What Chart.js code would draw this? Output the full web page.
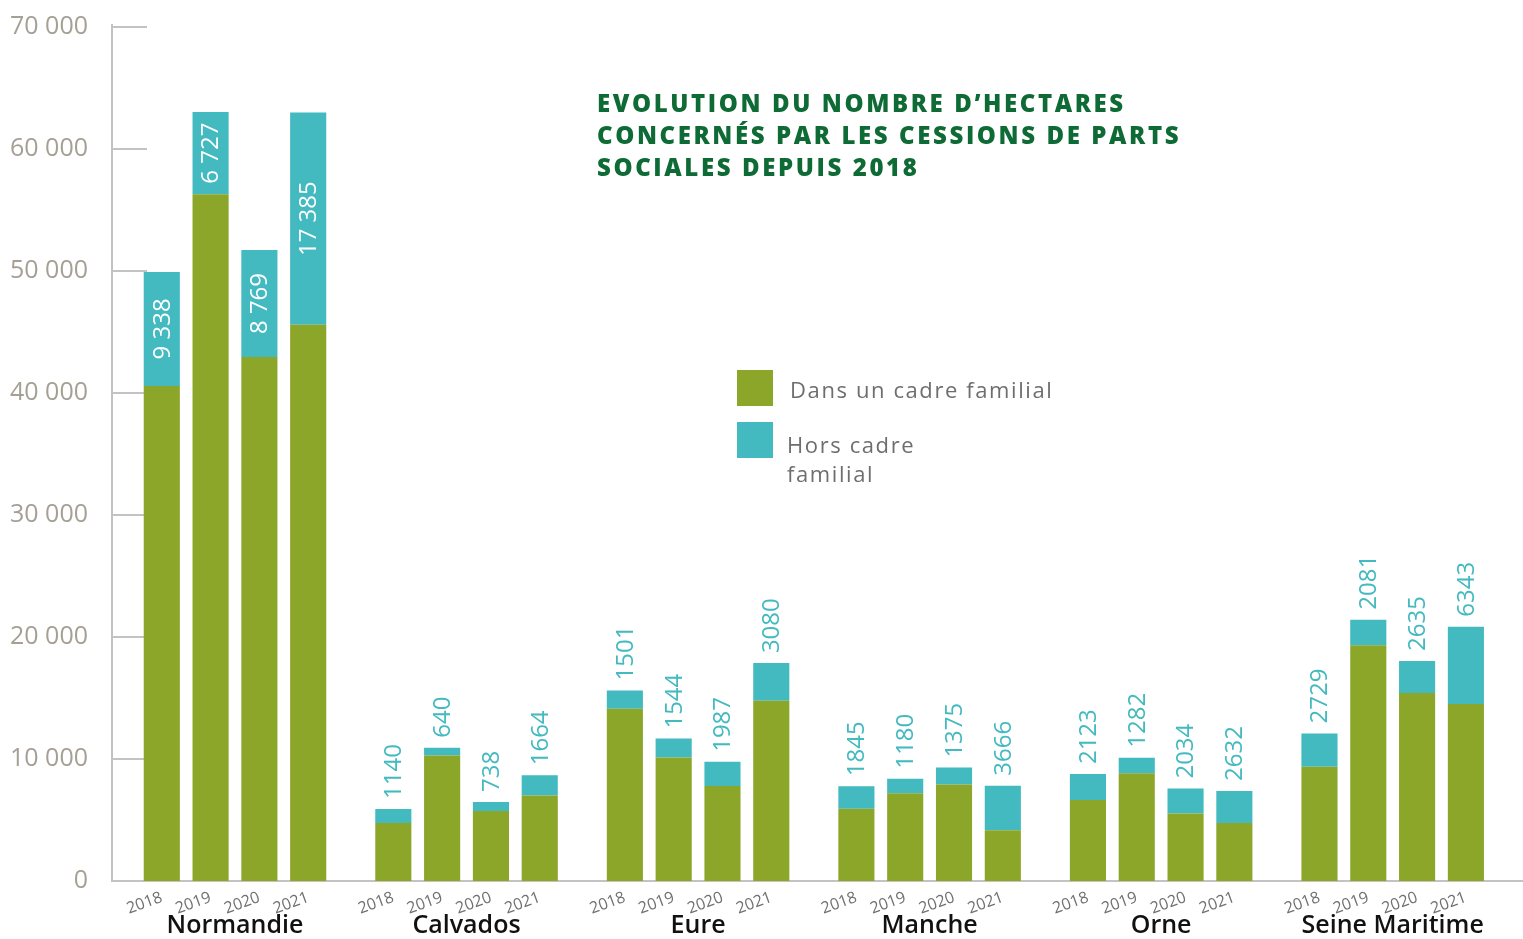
<!DOCTYPE html>
<html lang="fr">
<head>
<meta charset="utf-8">
<title>Evolution du nombre d'hectares</title>
<script src="https://cdn.jsdelivr.net/npm/chart.js@4.4.1/dist/chart.umd.min.js"></script>
<style>
  html, body { margin: 0; padding: 0; background: #ffffff; }
  #wrap { position: relative; width: 1523px; height: 939px; overflow: hidden; }
  #title {
    position: absolute; left: 597px; top: 87px;
    font-family: "Open Sans", sans-serif; font-weight: 800; font-size: 24px;
    line-height: 32px; letter-spacing: 2.6px; color: #0f6b35; white-space: nowrap;
  }
  .sw { position: absolute; width: 36px; height: 36px; }
  .lt {
    position: absolute; font-family: "Open Sans", sans-serif; font-size: 22px;
    line-height: 29px; letter-spacing: 1.6px; color: #6e6e6e; white-space: nowrap;
  }
</style>
</head>
<body>
<div id="wrap">
  <canvas id="chart"></canvas>
  <div id="title">EVOLUTION DU NOMBRE D’HECTARES<br>CONCERNÉS PAR LES CESSIONS DE PARTS<br>SOCIALES DEPUIS 2018</div>
  <div class="sw" style="left:737px;top:370px;background:#8ca629"></div>
  <div class="lt" style="left:790px;top:375px">Dans un cadre familial</div>
  <div class="sw" style="left:737px;top:422px;background:#43b9c0"></div>
  <div class="lt" style="left:787px;top:430px">Hors cadre<br>familial</div>
</div>
<script>
// ---- DATA ----
const regions = ['Normandie', 'Calvados', 'Eure', 'Manche', 'Orne', 'Seine Maritime'];
const years = ['2018', '2019', '2020', '2021'];
// "Dans un cadre familial" (ha), 4 years per region, in region order
const familialValues = [
  40580, 56300, 42950, 45600,   // Normandie
  4760, 10280, 5740, 7000,      // Calvados
  14120, 10130, 7780, 14780,    // Eure
  5920, 7200, 7920, 4150,       // Manche
  6640, 8830, 5540, 4750,       // Orne
  9370, 19330, 15400, 14500     // Seine Maritime
];
// "Hors cadre familial" (ha)
const horsCadreValues = [
  9338, 6727, 8769, 17385,
  1140, 640, 738, 1664,
  1501, 1544, 1987, 3080,
  1845, 1180, 1375, 3666,
  2123, 1282, 2034, 2632,
  2729, 2081, 2635, 6343
];
const yTickValues = [0, 10000, 20000, 30000, 40000, 50000, 60000, 70000];
const seriesLabels = ['Dans un cadre familial', 'Hors cadre familial'];
// ---------------

const COLOR_FAM = '#8ca629';
const COLOR_HORS = '#43b9c0';
const REGION_GAP = 0.744;                       // empty space between regions, in bar slots
const REGION_STEP = years.length + REGION_GAP;  // slots per region

function slotOf(k) { return Math.floor(k / years.length) * REGION_STEP + (k % years.length); }
function toPoints(vals) { return vals.map((v, k) => ({ x: slotOf(k), y: v })); }
function fmtSpaced(v) { return String(v).replace(/\B(?=(\d{3})+(?!\d))/g, ' '); }

const barSlots = familialValues.map((v, k) => slotOf(k));

const axisExtras = {
  id: 'axisExtras',
  beforeDatasetsDraw(chart) {
    const { ctx, chartArea, scales } = chart;
    ctx.save();
    ctx.strokeStyle = '#c3c3c3';
    ctx.lineWidth = 2;
    yTickValues.forEach(v => {
      if (v === 0) return;
      const y = Math.round(scales.y.getPixelForValue(v));
      ctx.beginPath();
      ctx.moveTo(chartArea.left, y);
      ctx.lineTo(chartArea.left + 35, y);
      ctx.stroke();
    });
    ctx.beginPath();
    ctx.moveTo(chartArea.left, chartArea.top);
    ctx.lineTo(chartArea.left, chartArea.top - 3);
    ctx.stroke();
    ctx.restore();
  }
};

const barLabels = {
  id: 'barLabels',
  afterDatasetsDraw(chart) {
    const { ctx } = chart;
    const meta = chart.getDatasetMeta(1);
    ctx.save();
    ctx.font = '24px "Open Sans", sans-serif';
    meta.data.forEach((el, k) => {
      const region = Math.floor(k / years.length);
      const v = horsCadreValues[k];
      ctx.save();
      if (region === 0) {
        const cy = (el.y + el.base) / 2;
        ctx.translate(el.x + 1, cy);
        ctx.rotate(-Math.PI / 2);
        ctx.fillStyle = '#ffffff';
        ctx.textAlign = 'center';
        ctx.textBaseline = 'middle';
        ctx.fillText(fmtSpaced(v), 0, 0);
      } else {
        ctx.translate(el.x + 1, el.y - 10);
        ctx.rotate(-Math.PI / 2);
        ctx.fillStyle = COLOR_HORS;
        ctx.textAlign = 'left';
        ctx.textBaseline = 'middle';
        ctx.fillText(String(v), 0, 0);
      }
      ctx.restore();
    });
    ctx.restore();
  }
};

const regionLabels = {
  id: 'regionLabels',
  afterDraw(chart) {
    const { ctx, chartArea, scales } = chart;
    ctx.save();
    ctx.font = '600 25px "Open Sans", sans-serif';
    ctx.fillStyle = '#111111';
    ctx.textAlign = 'center';
    ctx.textBaseline = 'alphabetic';
    regions.forEach((r, g) => {
      const first = scales.x.getPixelForValue(g * REGION_STEP);
      const last = scales.x.getPixelForValue(g * REGION_STEP + years.length - 1);
      ctx.fillText(r, (first + last) / 2, chartArea.bottom + 52);
    });
    ctx.restore();
  }
};

new Chart(document.getElementById('chart'), {
  type: 'bar',
  data: {
    datasets: [
      { label: seriesLabels[0], data: toPoints(familialValues), backgroundColor: COLOR_FAM,
        barPercentage: 0.74, categoryPercentage: 1, stack: 's' },
      { label: seriesLabels[1], data: toPoints(horsCadreValues), backgroundColor: COLOR_HORS,
        barPercentage: 0.74, categoryPercentage: 1, stack: 's' }
    ]
  },
  options: {
    responsive: true,
    maintainAspectRatio: false,
    animation: false,
    layout: { padding: { top: 27, right: 0, left: 0, bottom: 0 } },
    plugins: { legend: { display: false }, tooltip: { enabled: false }, title: { display: false } },
    scales: {
      x: {
        type: 'linear', stacked: true, offset: false,
        min: -1.02, max: 27.89,
        afterBuildTicks(scale) { scale.ticks = barSlots.map(v => ({ value: v })); },
        afterFit(scale) { scale.height = 58; scale.paddingLeft = 0; scale.paddingRight = 0; },
        grid: { display: false, drawTicks: false },
        border: { display: true, color: '#c3c3c3', width: 2 },
        ticks: {
          autoSkip: false, minRotation: 20, maxRotation: 20, padding: 7,
          color: '#707070', font: { family: 'Open Sans', size: 16 },
          callback: (v, i) => years[i % years.length]
        }
      },
      y: {
        stacked: true, min: 0, max: 70000,
        afterBuildTicks(scale) { scale.ticks = yTickValues.map(v => ({ value: v })); },
        afterFit(scale) { scale.width = 112; scale.paddingTop = 0; scale.paddingBottom = 0; },
        grid: { display: false, drawTicks: false },
        border: { display: true, color: '#c3c3c3', width: 2 },
        ticks: {
          padding: 24, color: '#a59f94', font: { family: 'Open Sans', size: 25 },
          callback: (v) => fmtSpaced(v)
        }
      }
    }
  },
  plugins: [axisExtras, barLabels, regionLabels]
});
</script>
</body>
</html>
